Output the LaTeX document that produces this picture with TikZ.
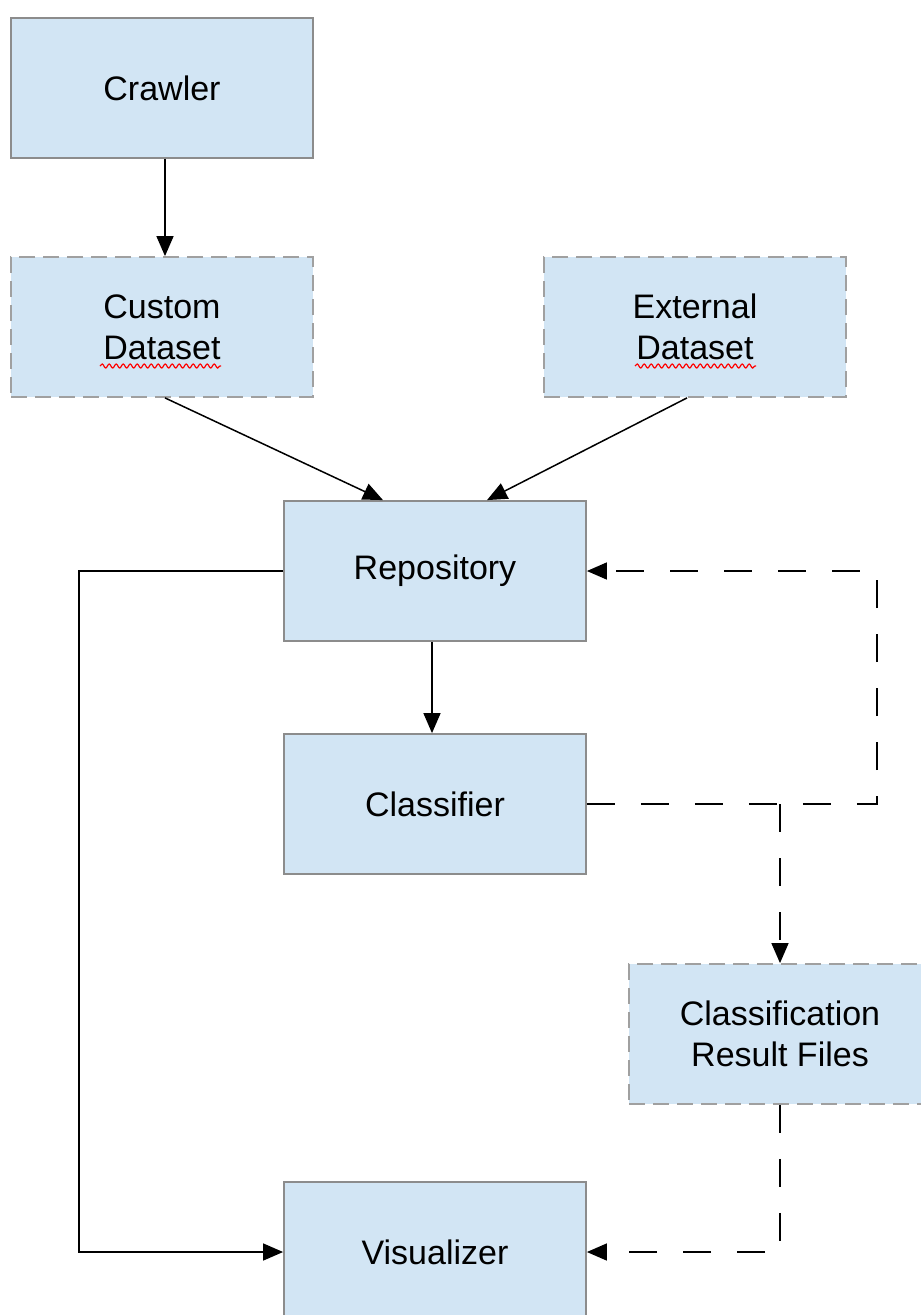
\documentclass[tikz,border=0pt]{standalone}
\usepackage{fontspec}
\setmainfont{Liberation Sans}
\usetikzlibrary{arrows.meta,calc,decorations.pathmorphing}
\definecolor{boxfill}{RGB}{210,229,244}
\definecolor{boxline}{RGB}{140,140,140}
\definecolor{dashline}{RGB}{160,160,160}
\tikzset{
  block/.style={draw=boxline, line width=1.8pt, fill=boxfill,
    minimum width=302pt, minimum height=140pt, inner sep=0pt,
    align=center, font=\fontsize{34}{41}\selectfont},
  store/.style={block, draw=dashline, dash pattern=on 16pt off 8pt},
  conn/.style={draw=black, line width=1.5pt},
  arr/.style={conn, -{Triangle[length=20pt,width=17pt]}},
  darr/.style={arr, dash pattern=on 28pt off 26pt},
  squiggle/.style={draw=red, line width=1.2pt,
    decorate, decoration={snake, segment length=7pt, amplitude=2pt}}
}
\begin{document}
\begin{tikzpicture}[x=1pt,y=-1pt]
\clip (0,0) rectangle (921,1315);
\fill[white] (0,0) rectangle (921,1315);

% components
\node[block] (crawler) at (162,88)  {Crawler};
\node[store] (custom)  at (162,327) {Custom\\Dataset};
\node[store] (extern)  at (695,327) {External\\Dataset};
\node[block] (repo)    at (435,571) {Repository};
\node[block] (cls)     at (435,804) {Classifier};
\node[store] (res)     at (780,1034) {Classification\\Result Files};
\node[block] (vis)     at (435,1252) {Visualizer};

% spell-check underlines
\draw[squiggle] (100,366) -- (221,366);
\draw[squiggle] (635,366) -- (756,366);

% data flow
\draw[arr] ($(crawler.south)+(3,0)$) -- ($(custom.north)+(3,0)$);
\draw[arr] ($(custom.south)+(3,0)$) -- ($(repo.north)+(-52,0)$);
\draw[arr] ($(extern.south)+(-8,0)$) -- ($(repo.north)+(52,0)$);
\draw[arr] ($(repo.south)+(-3,0)$) -- ($(cls.north)+(-3,0)$);
\draw[arr] (repo.west) -- ++(-204,0) |- (vis.west);

% classifier output
\draw[darr] (cls.east) -- ++(290,0) |- (repo.east);
\draw[darr] (res.north |- cls.east) -- (res.north);
\draw[darr] (res.south) |- (vis.east);
\end{tikzpicture}
\end{document}
